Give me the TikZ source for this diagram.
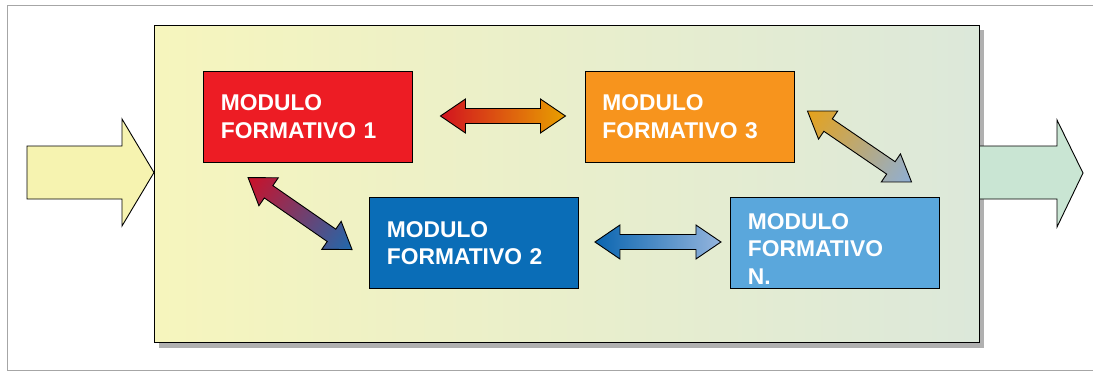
\documentclass[tikz,border=0pt]{standalone}
\usepackage{fontspec}
\newfontfamily\lsans{Liberation Sans}
\usetikzlibrary{calc}
\definecolor{framegray}{HTML}{A6A6A6}
\definecolor{shadowgray}{HTML}{B0B0B0}
\definecolor{boxleft}{HTML}{F6F5BD}
\definecolor{boxright}{HTML}{DCE8DA}
\definecolor{inarrow}{HTML}{F6F3B0}
\definecolor{outarrow}{HTML}{C9E5D3}
\definecolor{modred}{HTML}{ED1C24}
\definecolor{modorange}{HTML}{F7941D}
\definecolor{moddkblue}{HTML}{0A6DB7}
\definecolor{modltblue}{HTML}{5AA7DC}
\definecolor{arred}{HTML}{D2131F}
\definecolor{arorange}{HTML}{E8A000}
\definecolor{arredb}{HTML}{CC1028}
\definecolor{arblue}{HTML}{1F6AAE}
\definecolor{arorangeb}{HTML}{E6A21A}
\definecolor{arltblue}{HTML}{8EAFD6}
\definecolor{ardkblue}{HTML}{0A65B0}
\definecolor{arpale}{HTML}{95B5DD}
\newcommand{\dblarr}[5]{%
  \begin{scope}[transform canvas={shift={(#1)},rotate=#2}]
    \shade[draw=black, line width=0.9pt, line join=miter, left color=#4, right color=#5]
      (0,0) -- (25,17) -- (25,7.5) -- ({#3-25},7.5) -- ({#3-25},17) -- (#3,0)
      -- ({#3-25},-17) -- ({#3-25},-7.5) -- (25,-7.5) -- (25,-17) -- cycle;
  \end{scope}}
\tikzset{
  modbox/.style={draw=black, line width=0.9pt, minimum width=209pt, minimum height=91pt,
    inner xsep=17.4pt, inner ysep=0pt, text width=174.2pt, align=left, text=white,
    font=\lsans\bfseries\fontsize{22.8}{27.3}\selectfont},
  bigarrow/.style={draw=black, line width=0.9pt, line join=miter}
}
\begin{document}
\begin{tikzpicture}[x=1pt,y=-1pt]
\useasboundingbox (0,0) rectangle (1093,372);
% outer frame
\draw[framegray, line width=1.6pt] (1100,5.3) -- (7.3,5.3) -- (7.3,370.3) -- (1100,370.3);
% shadow of main box
\fill[shadowgray] (159,30) rectangle (984,347.5);
% input arrow
\filldraw[bigarrow, fill=inarrow] (27,146) -- (122,146) -- (122,119) -- (154,172.5) -- (122,226) -- (122,199) -- (27,199) -- cycle;
% output arrow
\fill[outarrow] (979,146) -- (1057,146) -- (1057,120) -- (1083,173) -- (1057,227) -- (1057,199) -- (979,199) -- cycle;
\draw[bigarrow] (979,146) -- (1057,146) -- (1057,120) -- (1083,173) -- (1057,227) -- (1057,199) -- (979,199);
% main box
\node[draw=black, line width=0.9pt, left color=boxleft, right color=boxright,
      minimum width=825pt, minimum height=317pt, inner sep=0pt] (main) at (566.5,183.5) {};
% modules
\node[modbox, fill=modred] (m1) at (308,116.6) {MODULO\\FORMATIVO 1};
\node[modbox, fill=modorange] (m3) at (689.5,116.6) {MODULO\\FORMATIVO 3};
\node[modbox, fill=moddkblue] (m2) at (474,243.3) {MODULO\\FORMATIVO 2};
\node[modbox, fill=modltblue, text height=27pt] (mn) at (835,243.4) {MODULO\\FORMATIVO\\N.};
% connectors (double arrows)
\coordinate (a13) at ($(m1.east)+(27.5,-0.6)$);
\coordinate (a12) at ($(m1.south west)+(45,15)$);
\coordinate (a3n) at ($(m3.east)+(13,-5.6)$);
\coordinate (a2n) at ($(m2.east)+(16,-1.3)$);
\dblarr{a13}{0}{125}{arred}{arorange}
\dblarr{a12}{-34.7}{126.5}{arredb}{arblue}
\dblarr{a3n}{-34.3}{126}{arorangeb}{arltblue}
\dblarr{a2n}{0}{126}{ardkblue}{arpale}
\end{tikzpicture}
\end{document}
